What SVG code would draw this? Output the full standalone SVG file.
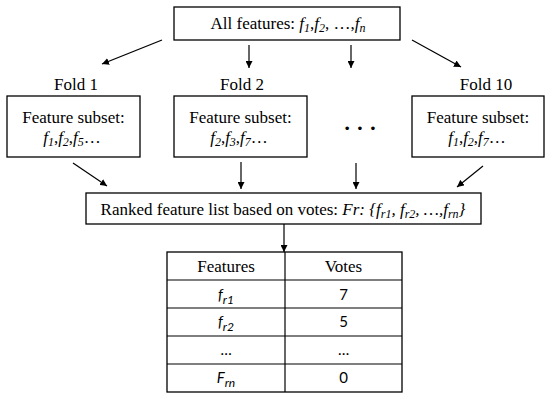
<svg xmlns="http://www.w3.org/2000/svg" width="550" height="400" viewBox="0 0 550 400">
<defs>
<marker id="ah" viewBox="0 0 10 10" refX="10" refY="5" markerWidth="7" markerHeight="7" markerUnits="userSpaceOnUse" orient="auto">
<path d="M0,0 L10,5 L0,10 z" fill="#000"/>
</marker>
<style>
.box{fill:#fff;stroke:#000;stroke-width:1.3}
.i{font-style:italic}
.sub{font-size:12px}
.ln{stroke:#000;stroke-width:1.2;fill:none}
.cn{stroke:#000;stroke-width:1.2;fill:none;marker-end:url(#ah)}
</style>
</defs>
<rect width="550" height="400" fill="#fff"/>
<g id="connectors">
<line class="cn" x1="162" y1="40" x2="102" y2="64"/>
<line class="cn" x1="249" y1="45" x2="249" y2="68"/>
<line class="cn" x1="351" y1="45" x2="351" y2="68"/>
<line class="cn" x1="412" y1="40" x2="461" y2="67"/>
<line class="cn" x1="73" y1="163" x2="107" y2="186"/>
<line class="cn" x1="241" y1="162" x2="241" y2="189"/>
<line class="cn" x1="356" y1="163" x2="356" y2="189"/>
<line class="cn" x1="483" y1="166" x2="457" y2="187"/>
<line class="cn" x1="284" y1="224" x2="284" y2="252"/>
</g>
<g id="all-features">
<rect class="box" x="174" y="7" width="226" height="33"/>
<text x="288" y="29" text-anchor="middle" style="font-family:'Liberation Serif',serif;font-size:17px">All features: <tspan class="i">f</tspan><tspan class="i sub" dy="3">1</tspan><tspan dy="-3">,</tspan><tspan class="i">f</tspan><tspan class="i sub" dy="3">2</tspan><tspan dy="-3">, …,</tspan><tspan class="i">f</tspan><tspan class="i sub" dy="3">n</tspan></text>
</g>
<g id="fold1">
<text x="76" y="90" text-anchor="middle" style="font-family:'Liberation Serif',serif;font-size:17px">Fold 1</text>
<rect class="box" x="7" y="96" width="133" height="61"/>
<text x="73.5" y="123" text-anchor="middle" style="font-family:'Liberation Serif',serif;font-size:17px">Feature subset:</text>
<text x="72" y="143" text-anchor="middle" style="font-family:'Liberation Serif',serif;font-size:17px"><tspan class="i">f</tspan><tspan class="i sub" dy="3">1</tspan><tspan dy="-3">,</tspan><tspan class="i">f</tspan><tspan class="i sub" dy="3">2</tspan><tspan dy="-3">,</tspan><tspan class="i">f</tspan><tspan class="i sub" dy="3">5</tspan><tspan dy="-3">…</tspan></text>
</g>
<g id="fold2">
<text x="242" y="90" text-anchor="middle" style="font-family:'Liberation Serif',serif;font-size:17px">Fold 2</text>
<rect class="box" x="174" y="96" width="133" height="61"/>
<text x="240.5" y="123" text-anchor="middle" style="font-family:'Liberation Serif',serif;font-size:17px">Feature subset:</text>
<text x="239" y="143" text-anchor="middle" style="font-family:'Liberation Serif',serif;font-size:17px"><tspan class="i">f</tspan><tspan class="i sub" dy="3">2</tspan><tspan dy="-3">,</tspan><tspan class="i">f</tspan><tspan class="i sub" dy="3">3</tspan><tspan dy="-3">,</tspan><tspan class="i">f</tspan><tspan class="i sub" dy="3">7</tspan><tspan dy="-3">…</tspan></text>
</g>
<g id="ellipsis">
<text x="360" y="135" text-anchor="middle" style="font-family:'Liberation Serif',serif;font-size:22px;font-weight:bold">· · ·</text>
</g>
<g id="fold10">
<text x="486" y="90" text-anchor="middle" style="font-family:'Liberation Serif',serif;font-size:17px">Fold 10</text>
<rect class="box" x="412" y="96" width="132" height="61"/>
<text x="478" y="123" text-anchor="middle" style="font-family:'Liberation Serif',serif;font-size:17px">Feature subset:</text>
<text x="477" y="143" text-anchor="middle" style="font-family:'Liberation Serif',serif;font-size:17px"><tspan class="i">f</tspan><tspan class="i sub" dy="3">1</tspan><tspan dy="-3">,</tspan><tspan class="i">f</tspan><tspan class="i sub" dy="3">2</tspan><tspan dy="-3">,</tspan><tspan class="i">f</tspan><tspan class="i sub" dy="3">7</tspan><tspan dy="-3">…</tspan></text>
</g>
<g id="ranked">
<rect class="box" x="86" y="193" width="395" height="31"/>
<text x="283" y="215" text-anchor="middle" style="font-family:'Liberation Serif',serif;font-size:17px">Ranked feature list based on votes: <tspan class="i">Fr: {f</tspan><tspan class="i sub" dy="3">r1</tspan><tspan class="i" dy="-3">, f</tspan><tspan class="i sub" dy="3">r2</tspan><tspan class="i" dy="-3">, …,f</tspan><tspan class="i sub" dy="3">rn</tspan><tspan class="i" dy="-3">}</tspan></text>
</g>
<g id="table">
<rect class="box" x="167" y="252" width="235" height="140"/>
<line class="ln" x1="285" y1="252" x2="285" y2="392"/>
<line class="ln" x1="167" y1="280" x2="402" y2="280"/>
<line class="ln" x1="167" y1="308" x2="402" y2="308"/>
<line class="ln" x1="167" y1="336" x2="402" y2="336"/>
<line class="ln" x1="167" y1="364" x2="402" y2="364"/>
<text x="226" y="272" text-anchor="middle" style="font-family:'Liberation Serif',serif;font-size:17px">Features</text>
<text x="343.5" y="272" text-anchor="middle" style="font-family:'Liberation Serif',serif;font-size:17px">Votes</text>
<text x="226" y="300" text-anchor="middle" style="font-family:Lato,sans-serif;font-size:15px"><tspan class="i">f</tspan><tspan class="i sub" dy="4">r1</tspan></text>
<text x="343.5" y="300" text-anchor="middle" style="font-family:Lato,sans-serif;font-size:15px">7</text>
<text x="226" y="327" text-anchor="middle" style="font-family:Lato,sans-serif;font-size:15px"><tspan class="i">f</tspan><tspan class="i sub" dy="4">r2</tspan></text>
<text x="343.5" y="327" text-anchor="middle" style="font-family:Lato,sans-serif;font-size:15px">5</text>
<text x="226" y="355" text-anchor="middle" style="font-family:Lato,sans-serif;font-size:15px">…</text>
<text x="343.5" y="355" text-anchor="middle" style="font-family:Lato,sans-serif;font-size:15px">…</text>
<text x="226" y="383" text-anchor="middle" style="font-family:Lato,sans-serif;font-size:15px"><tspan class="i">F</tspan><tspan class="i sub" dy="4">rn</tspan></text>
<text x="343.5" y="383" text-anchor="middle" style="font-family:Lato,sans-serif;font-size:15px">0</text>
</g>
</svg>
